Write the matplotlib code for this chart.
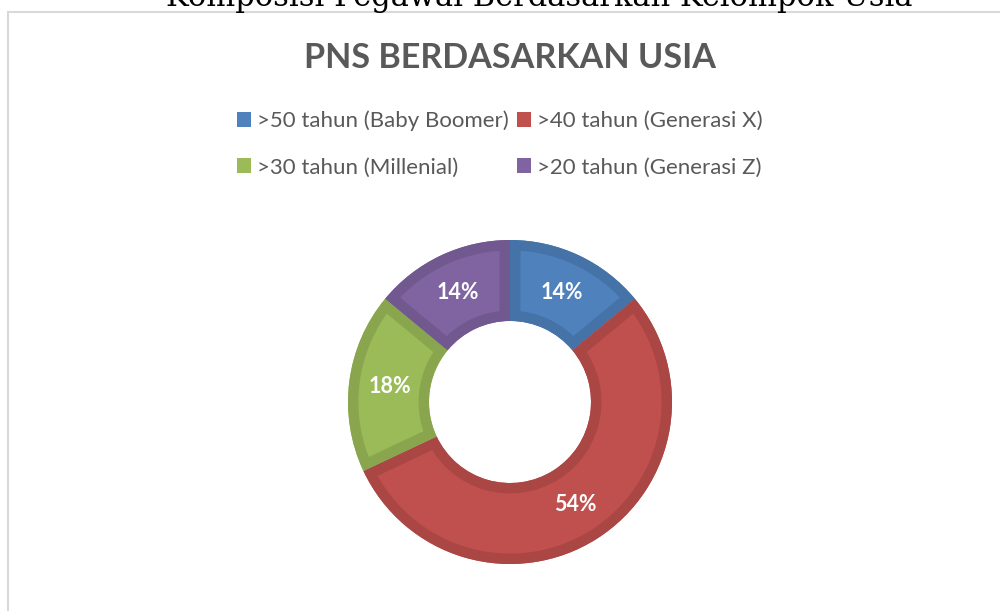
import matplotlib
matplotlib.use("Agg")
import matplotlib.pyplot as plt
from matplotlib.patches import Rectangle, Wedge

# data
categories = [">50 tahun (Baby Boomer)", ">40 tahun (Generasi X)",
              ">30 tahun (Millenial)", ">20 tahun (Generasi Z)"]
shares = [14, 54, 18, 14]
fills = ["#4F81BD", "#C0504D", "#9BBB59", "#8064A2"]
edges = ["#4572A7", "#AA4643", "#89A54E", "#71588F"]

doc_title = "Komposisi Pegawai Berdasarkan Kelompok Usia"
chart_title = "PNS BERDASARKAN USIA"

fig = plt.figure(figsize=(10, 6.11), dpi=100)
fig.patch.set_facecolor("white")

# outer frame of the chart object (cut off at right and bottom)
fig.patches.append(Rectangle((8 / 1000, -0.1), 1.2, (611 - 12) / 611 + 0.1,
                             transform=fig.transFigure, fill=False,
                             edgecolor="#D9D9D9", lw=1.5))

# heading of the document, partly cut at the top
fig.text(0.539, 1 - 6 / 611, doc_title, ha="center", va="baseline",
         family="DejaVu Serif", fontsize=22, color="black")

fig.text(0.51, 1 - 58 / 611, chart_title, ha="center", va="center",
         family="Lato", fontweight="bold", fontsize=24.6, color="#595959")

# donut
ax = fig.add_axes([(510 - 170) / 1000, (611 - 402 - 170) / 611, 340 / 1000, 340 / 611])
lim = 170 / 162
wedges, texts, autotexts = ax.pie(
    shares, colors=fills, startangle=90, counterclock=False,
    wedgeprops=dict(width=0.5, linewidth=0),
    autopct="%d%%", pctdistance=0.75,
    textprops=dict(color="white", fontweight="bold", fontsize=15.5, family="Lato"))

# darker inner border of each segment: stroke clipped to the segment itself
for w, ec in zip(wedges, edges):
    b = Wedge(w.center, w.r, w.theta1, w.theta2, width=w.width,
              facecolor="none", edgecolor=ec, linewidth=15, zorder=w.get_zorder() + 0.5)
    ax.add_patch(b)
    b.set_clip_path(w)
for t in autotexts:
    t.set_zorder(5)

ax.set_xlim(-lim, lim)
ax.set_ylim(-lim, lim)
ax.set_aspect("equal")
ax.axis("off")

# legend: two rows, two columns
order = [0, 2, 1, 3]
leg = fig.legend([wedges[i] for i in order], [categories[i] for i in order],
                 ncol=2, loc="center", bbox_to_anchor=(0.5, 1 - 144 / 611),
                 frameon=False, handlelength=0.63, handleheight=0.63,
                 handletextpad=0.27, columnspacing=0.36, labelspacing=1.18,
                 prop=dict(family="Lato", size=16))
for t in leg.get_texts():
    t.set_color("#595959")
for h, i in zip(leg.legend_handles, order):
    h.set_facecolor(fills[i])
    h.set_linewidth(0)

plt.savefig("out.png", dpi=100)
